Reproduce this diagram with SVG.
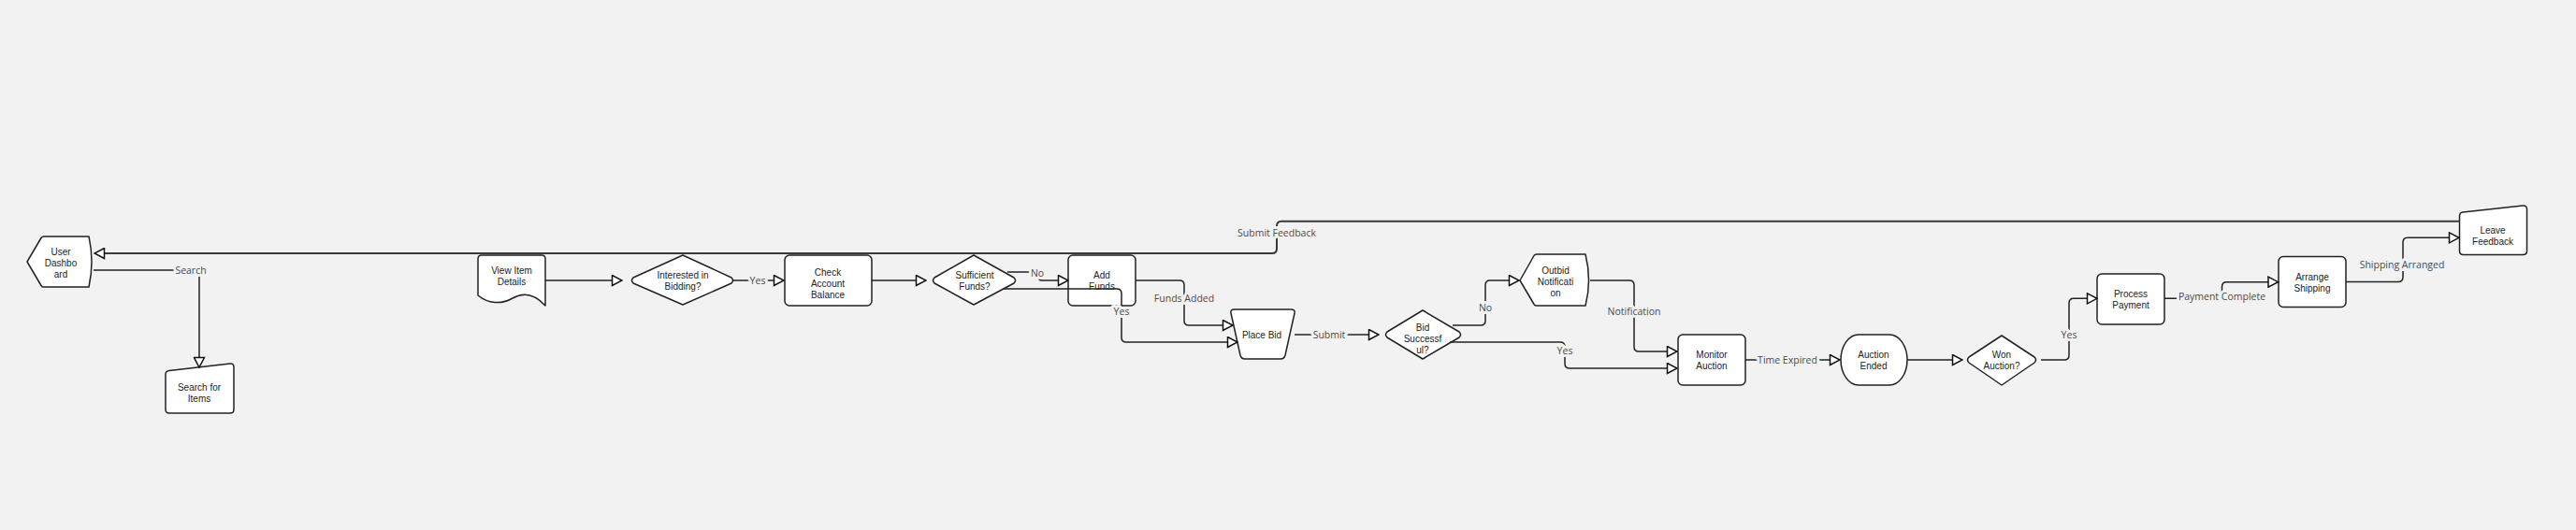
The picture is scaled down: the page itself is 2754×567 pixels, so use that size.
<svg xmlns="http://www.w3.org/2000/svg" width="2754" height="567" viewBox="0 0 2754 567">
<style>
.n{fill:#fff;stroke:#222;stroke-width:1.5;stroke-linejoin:round}
.t{font-family:"Liberation Sans",Arial,sans-serif;font-size:10px;fill:#222;text-anchor:middle;dominant-baseline:central}
.c{fill:none;stroke:#222;stroke-width:1.5}
.fb{fill:none;stroke:#3a3a3a;stroke-width:2}
.l{font-family:"Open Sans","Noto Sans",sans-serif;font-size:10.5px;fill:#4a4a4a;text-anchor:middle;dominant-baseline:central;stroke:#f2f2f2;stroke-width:6;stroke-linejoin:round;paint-order:stroke}
</style>
<defs>
<marker id="a" viewBox="0 0 13 13" refX="12" refY="6.5" markerWidth="13" markerHeight="13" markerUnits="userSpaceOnUse" orient="auto">
<path d="M1.5,1 L12,6.5 L1.5,12 Z" fill="#fff" stroke="#111" stroke-width="1.5" stroke-linejoin="miter"/>
</marker>
</defs>
<rect width="2754" height="567" fill="#f2f2f2"/>

<g id="user-dashboard">
<path class="n" d="M29,280 L44,254.5 Q45,253 47,253 H95 Q101,280 95,307 H47 Q45,307 44,305.5 Z"/>
<text class="t" x="65" y="269">User</text><text class="t" x="65" y="281">Dashbo</text><text class="t" x="65" y="293">ard</text>
</g>
<g id="search-items">
<path class="n" d="M181,396.5 L246,389 Q250,388.5 250,393 V438 Q250,442 246,442 H181 Q177,442 177,438 V400.5 Q177,397 181,396.5 Z"/>
<text class="t" x="213" y="414">Search for</text><text class="t" x="213" y="426">Items</text>
</g>
<g id="view-item">
<path class="n" d="M515,273 H579 Q583,273 583,277 V327 C572,315 560,312 548,319 C536,326 522,325 511,316 V277 Q511,273 515,273 Z"/>
<text class="t" x="547" y="289">View Item</text><text class="t" x="547" y="301">Details</text>
</g>
<g id="interested">
<path class="n" d="M677,297 L730,273 L782,297 Q785,300 782,303 L730,326 L677,303 Q674,300 677,297 Z"/>
<text class="t" x="730" y="294">Interested in</text><text class="t" x="730" y="306">Bidding?</text>
</g>
<g id="check-balance">
<rect class="n" x="839" y="273" width="93" height="54" rx="5"/>
<text class="t" x="885" y="291">Check</text><text class="t" x="885" y="303">Account</text><text class="t" x="885" y="315">Balance</text>
</g>
<g id="sufficient">
<path class="n" d="M999,297 L1041,273 L1084,297 Q1087,300 1084,303 L1041,326 L999,303 Q996,300 999,297 Z"/>
<text class="t" x="1042" y="294">Sufficient</text><text class="t" x="1042" y="306">Funds?</text>
</g>
<g id="add-funds">
<rect class="n" x="1142" y="273" width="72" height="54" rx="5"/>
<text class="t" x="1178" y="294">Add</text><text class="t" x="1178" y="306">Funds</text>
</g>
<g id="place-bid">
<path class="n" d="M1320,331 H1380 Q1385,331 1384,335 L1374,380 Q1373,384 1369,384 H1331 Q1327,384 1326,380 L1316,335 Q1315,331 1320,331 Z"/>
<text class="t" x="1349" y="358">Place Bid</text>
</g>
<g id="bid-successful">
<path class="n" d="M1483,355 L1521,332 L1560,355 Q1563,358 1560,361 L1521,384 L1483,361 Q1480,358 1483,355 Z"/>
<text class="t" x="1521" y="350">Bid</text><text class="t" x="1521" y="362">Successf</text><text class="t" x="1521" y="374">ul?</text>
</g>
<g id="outbid">
<path class="n" d="M1625,300 L1640,273.5 Q1641,272 1643,272 H1695 Q1702,300 1695,327 H1643 Q1641,327 1640,325.5 Z"/>
<text class="t" x="1663" y="289">Outbid</text><text class="t" x="1663" y="301">Notificati</text><text class="t" x="1663" y="313">on</text>
</g>
<g id="monitor">
<rect class="n" x="1794" y="358" width="72" height="54" rx="5"/>
<text class="t" x="1830" y="379">Monitor</text><text class="t" x="1830" y="391">Auction</text>
</g>
<g id="auction-ended">
<rect class="n" x="1968" y="358" width="71" height="54" rx="19" ry="27"/>
<text class="t" x="2003" y="379">Auction</text><text class="t" x="2003" y="391">Ended</text>
</g>
<g id="won">
<path class="n" d="M2105,382 L2140,359 L2175,382 Q2178,385 2175,388 L2140,412 L2105,388 Q2102,385 2105,382 Z"/>
<text class="t" x="2140" y="379">Won</text><text class="t" x="2140" y="391">Auction?</text>
</g>
<g id="process-payment">
<rect class="n" x="2242" y="293" width="72" height="54" rx="5"/>
<text class="t" x="2278" y="314">Process</text><text class="t" x="2278" y="326">Payment</text>
</g>
<g id="arrange-shipping">
<rect class="n" x="2436" y="274.5" width="72" height="54" rx="5"/>
<text class="t" x="2472" y="296">Arrange</text><text class="t" x="2472" y="308">Shipping</text>
</g>
<g id="leave-feedback">
<path class="n" d="M2633,227 L2697,220 Q2701.5,219.5 2701.5,224 V268.5 Q2701.5,272.5 2697.5,272.5 H2633.5 Q2629.5,272.5 2629.5,268.5 V231 Q2629.5,227.5 2633,227 Z"/>
<text class="t" x="2665" y="246">Leave</text><text class="t" x="2665" y="258">Feedback</text>
</g>

<g id="connectors">
<path class="fb" marker-end="url(#a)" d="M2629.5,236.7 H1370 Q1365,236.7 1365,241.7 V266 Q1365,271 1360,271 H101"/>
<path class="c" marker-end="url(#a)" d="M100,289 H208 Q213,289 213,294 V393"/>
<path class="c" marker-end="url(#a)" d="M583,300 H665"/>
<path class="c" marker-end="url(#a)" d="M784,300 H838"/>
<path class="c" marker-end="url(#a)" d="M932,300 H990"/>
<path class="c" marker-end="url(#a)" d="M1077,291 H1110 V296 Q1110,300 1114,300 H1142"/>
<path class="c" marker-end="url(#a)" d="M1073,309 H1194 Q1199,309 1199,314 V361 Q1199,366 1204,366 H1323"/>
<path class="c" marker-end="url(#a)" d="M1214,300 H1261 Q1266,300 1266,305 V343 Q1266,348 1271,348 H1318"/>
<path class="c" marker-end="url(#a)" d="M1384,358 H1474"/>
<path class="c" marker-end="url(#a)" d="M1553,348 H1583 Q1588,348 1588,343 V305 Q1588,300 1593,300 H1624"/>
<path class="c" marker-end="url(#a)" d="M1550,366 H1668 Q1673,366 1673,371 V389 Q1673,394 1678,394 H1793"/>
<path class="c" marker-end="url(#a)" d="M1700,300 H1742 Q1747,300 1747,305 V371 Q1747,376 1752,376 H1793"/>
<path class="c" marker-end="url(#a)" d="M1866,385 H1967"/>
<path class="c" marker-end="url(#a)" d="M2039,385 H2098"/>
<path class="c" marker-end="url(#a)" d="M2182,385 H2207 Q2212,385 2212,380 V324.3 Q2212,319.3 2217,319.3 H2242"/>
<path class="c" marker-end="url(#a)" d="M2314,319.3 H2375.5 V306.7 Q2375.5,301.7 2380.5,301.7 H2435.5"/>
<path class="c" marker-end="url(#a)" d="M2508,301.5 H2564 Q2569,301.5 2569,296.5 V259.3 Q2569,254.3 2574,254.3 H2629"/>
</g>

<g id="labels">
<text class="l" x="1365" y="249">Submit Feedback</text>
<text class="l" x="204" y="289">Search</text>
<text class="l" x="810" y="300">Yes</text>
<text class="l" x="1109" y="292">No</text>
<text class="l" x="1199" y="333">Yes</text>
<text class="l" x="1266" y="319">Funds Added</text>
<text class="l" x="1421" y="358">Submit</text>
<text class="l" x="1588" y="329">No</text>
<text class="l" x="1673" y="375">Yes</text>
<text class="l" x="1747" y="333">Notification</text>
<text class="l" x="1911" y="385">Time Expired</text>
<text class="l" x="2212" y="358">Yes</text>
<text class="l" x="2375.5" y="317">Payment Complete</text>
<text class="l" x="2568" y="283">Shipping Arranged</text>
</g>
</svg>
